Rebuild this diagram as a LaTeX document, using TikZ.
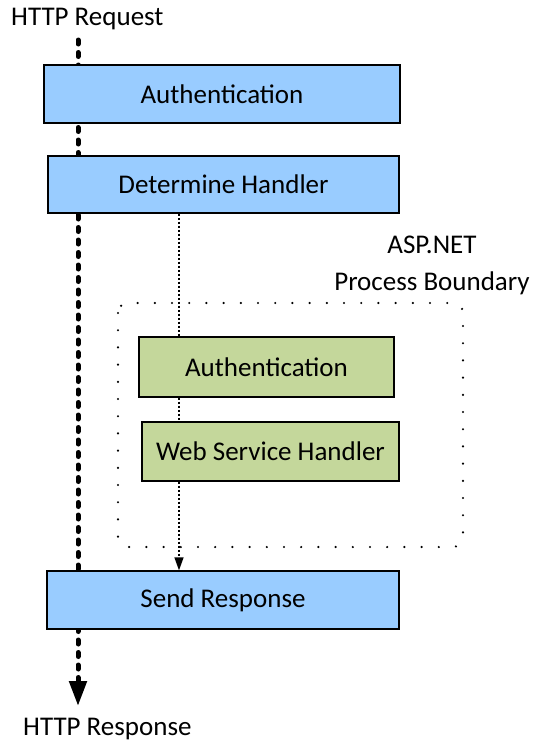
\documentclass[tikz,border=0pt]{standalone}
\usepackage{fontspec}
\setmainfont{Carlito}
\usetikzlibrary{arrows.meta,backgrounds}
\definecolor{stageblue}{HTML}{99CCFF}
\definecolor{stagegreen}{HTML}{C4D79B}
\begin{document}
\begin{tikzpicture}[x=1pt,y=-1pt,
  every node/.style={font=\fontsize{27}{37}\selectfont, text=black},
  stage/.style={draw=black, line width=1.3pt, rectangle, inner sep=0pt},
  bluestage/.style={stage, fill=stageblue},
  greenstage/.style={stage, fill=stagegreen},
  mainflow/.style={line width=5pt, line cap=round, dash pattern=on 4pt off 8.5pt,
    -{Triangle[length=25pt,width=17pt,line cap=butt]}},
  subflow/.style={line width=1.4pt, dash pattern=on 2pt off 2pt,
    -{Triangle[length=13pt,width=9pt]}},
  boundary/.style={line width=2.4pt, line cap=round, dash pattern=on 0pt off 17.2pt,
    rounded corners=10pt}]
\useasboundingbox (0,0) rectangle (534,744);

% stage boxes
\node[bluestage, minimum width=356pt, minimum height=58pt] (auth) at (222,94) {Authentication};
\node[bluestage, minimum width=351pt, minimum height=57pt] (handler) at (223.5,184.5) {Determine Handler};
\node[bluestage, minimum width=352pt, minimum height=58pt] (send) at (223,600) {Send Response};
\node[greenstage, minimum width=255pt, minimum height=60pt] (aspauth) at (266.5,367) {Authentication};
\node[greenstage, minimum width=257pt, minimum height=59pt] (wsh) at (270.5,451.5) {Web Service Handler};

% labels
\node[anchor=west, inner sep=0pt] (req) at (11,19) {HTTP Request};
\node[anchor=west, inner sep=0pt] (resp) at (23,729) {HTTP Response};
\node[align=center, inner sep=0pt] (bound) at (432,265) {ASP.NET\\Process Boundary};

% flow lines
\coordinate (mtop) at (78,40);
\coordinate (mend) at (78,706);
\coordinate (sx) at (179,0);
\begin{scope}[on background layer]
  \draw[boundary] (118,303) rectangle (463,547);
  \draw[mainflow] (mtop) -- (mend);
  \draw[subflow] (sx |- handler.south) -- (sx |- send.north);
\end{scope}
\end{tikzpicture}
\end{document}
